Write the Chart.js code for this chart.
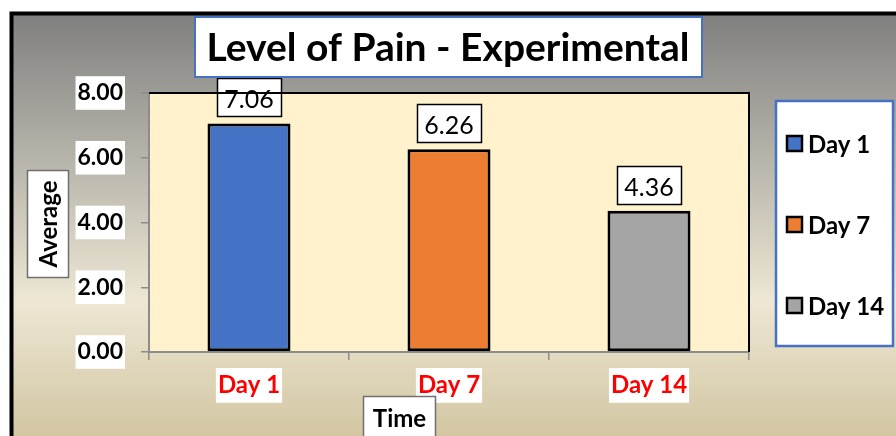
<!DOCTYPE html>
<html>
<head>
<meta charset="utf-8">
<script src="https://cdn.jsdelivr.net/npm/chart.js@4.4.0/dist/chart.umd.min.js"></script>
<style>
  html, body { margin: 0; padding: 0; background: #fff; }
  #wrap { width: 896px; height: 436px; }
</style>
</head>
<body>
<div id="wrap"><canvas id="chart" width="896" height="436"></canvas></div>
<script>
const chartTitle = 'Level of Pain - Experimental'
const categories = ['Day 1', 'Day 7', 'Day 14']
const values = [7.06, 6.26, 4.36]
const barColors = ['#4472C4', '#ED7D31', '#A5A5A5']
const yTicks = [0, 2, 4, 6, 8]
const yTitle = 'Average'
const xTitle = 'Time'

const FONT = 'Lato'

// white box with a border, used for title, labels, axis titles
function box(ctx, x, y, w, h, stroke, lw) {
    ctx.fillStyle = '#fff'
    ctx.fillRect(x, y, w, h)
    ctx.strokeStyle = stroke
    ctx.lineWidth = lw
    ctx.strokeRect(x, y, w, h)
}

const decor = {
    id: 'decor',
    beforeDraw(chart) {
        const ctx = chart.ctx
        const w = chart.width, h = chart.height
        ctx.save()
        ctx.fillStyle = '#fff'
        ctx.fillRect(0, 0, w, h)
        let g = ctx.createLinearGradient(0, 13, 0, h)
        g.addColorStop(0, '#7f7f7f')
        g.addColorStop(0.68, '#ede7d4')
        g.addColorStop(1, '#d2c6a2')
        ctx.fillStyle = g
        ctx.fillRect(11, 13, w, h)
        ctx.strokeStyle = '#000'
        ctx.lineWidth = 4
        ctx.strokeRect(11.5, 13.5, w + 20, h + 20)
        const a = chart.chartArea
        ctx.fillStyle = '#FFF2CC'
        ctx.fillRect(a.left, a.top, a.right - a.left, a.bottom - a.top)
        ctx.restore()
    },
    afterDatasetsDraw(chart) {
        const ctx = chart.ctx
        ctx.save()
        chart.getDatasetMeta(0).data.forEach((bar, i) => {
            const bw = 64, bh = 38
            const x = Math.round(bar.x - bw / 2) + 0.5
            const y = Math.round(bar.y - 7 - bh) + 0.5
            box(ctx, x, y, bw, bh, '#000', 1.5)
            ctx.fillStyle = '#000'
            ctx.font = '25px ' + FONT
            ctx.textAlign = 'center'
            ctx.textBaseline = 'middle'
            ctx.fillText(values[i].toFixed(2), bar.x, y + bh / 2 + 2)
        })
        ctx.restore()
    },
    afterDraw(chart) {
        const ctx = chart.ctx
        const a = chart.chartArea
        ctx.save()
        // plot area top / right edge
        ctx.strokeStyle = '#000'
        ctx.lineWidth = 2
        ctx.beginPath()
        ctx.moveTo(a.left, a.top)
        ctx.lineTo(a.right, a.top)
        ctx.lineTo(a.right, a.bottom)
        ctx.stroke()

        // title
        box(ctx, 195, 17, 507, 60, '#4472C4', 2)
        ctx.fillStyle = '#000'
        ctx.font = 'bold 39px ' + FONT
        ctx.textAlign = 'center'
        ctx.textBaseline = 'middle'
        ctx.fillText(chartTitle, 448, 48)

        // y title
        box(ctx, 27.5, 170.5, 41, 107, '#6f6f6f', 1.5)
        ctx.save()
        ctx.translate(48, 224)
        ctx.rotate(-Math.PI / 2)
        ctx.fillStyle = '#000'
        ctx.font = 'bold 24px ' + FONT
        ctx.fillText(yTitle, 0, 1)
        ctx.restore()

        // x title
        box(ctx, 363.5, 396.5, 72, 50, '#6f6f6f', 1.5)
        ctx.fillStyle = '#000'
        ctx.font = 'bold 24px ' + FONT
        ctx.fillText(xTitle, 399.5, 419)

        // legend
        box(ctx, 776, 101, 117, 245, '#4472C4', 2.5)
        const rows = [144, 225, 306]
        categories.forEach((c, i) => {
            ctx.fillStyle = barColors[i]
            ctx.fillRect(787, rows[i] - 8, 15, 15)
            ctx.strokeStyle = '#000'
            ctx.lineWidth = 2.5
            ctx.strokeRect(787, rows[i] - 8, 15, 15)
            ctx.fillStyle = '#000'
            ctx.font = 'bold 24px ' + FONT
            ctx.textAlign = 'left'
            ctx.fillText(c, 808, rows[i] + 1)
        })
        ctx.restore()
    }
}

const config = {
    type: 'bar',
    data: {
        labels: categories,
        datasets: [{
            label: chartTitle,
            data: values,
            backgroundColor: barColors,
            borderColor: '#000',
            borderWidth: 3,
            borderSkipped: false,
            barPercentage: 0.415,
            categoryPercentage: 1
        }]
    },
    options: {
        responsive: false,
        devicePixelRatio: 1,
        animation: false,
        layout: {
            padding: { left: 0, top: 93, right: 147, bottom: 0 }
        },
        plugins: {
            legend: { display: false },
            title: { display: false },
            tooltip: { enabled: false }
        },
        scales: {
            y: {
                min: 0,
                max: 8,
                afterBuildTicks: (scale) => {
                    scale.ticks = yTicks.map(v => ({ value: v }))
                },
                afterFit: (scale) => { scale.width = 149 },
                grid: {
                    drawOnChartArea: false,
                    tickLength: 8,
                    color: '#8c8c8c',
                    lineWidth: 1.5
                },
                border: { color: '#8c8c8c', width: 2 },
                ticks: {
                    callback: (v) => Number(v).toFixed(2),
                    color: '#000',
                    font: { family: FONT, size: 23, weight: 'bold' },
                    padding: 18,
                    showLabelBackdrop: true,
                    backdropColor: '#fff',
                    backdropPadding: { x: 2, y: 3 }
                }
            },
            x: {
                afterFit: (scale) => { scale.height = 84 },
                grid: {
                    drawOnChartArea: false,
                    offset: true,
                    tickLength: 8,
                    color: '#8c8c8c',
                    lineWidth: 1.5
                },
                border: { color: '#8c8c8c', width: 2 },
                ticks: {
                    color: '#FF0000',
                    maxRotation: 0,
                    font: { family: FONT, size: 24, weight: 'bold' },
                    padding: 11,
                    showLabelBackdrop: true,
                    backdropColor: '#fff',
                    backdropPadding: { x: 2, y: 3 }
                }
            }
        }
    },
    plugins: [decor]
}

new Chart(document.getElementById('chart'), config)
</script>
</body>
</html>
